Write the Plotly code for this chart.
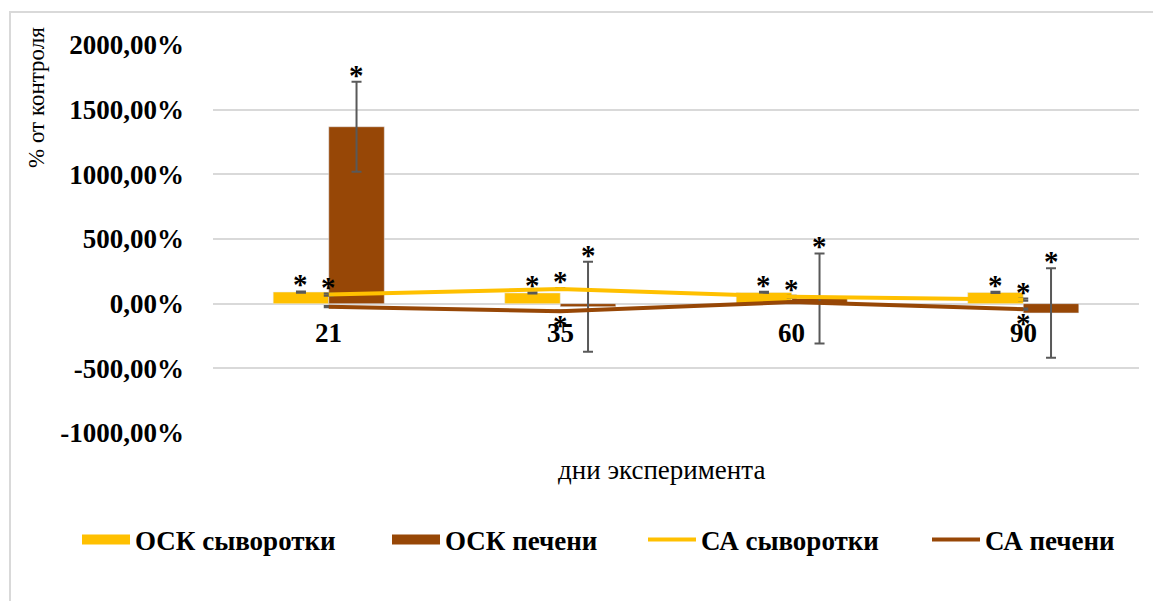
import plotly.graph_objects as go

# ---- data ----
days = ["21", "35", "60", "90"]
osk_serum = [90, 83, 87, 87]
osk_serum_err = [5, 5, 5, 5]
osk_liver = [1368, -23, 40, -72]
osk_liver_err = [348, 348, 348, 346]
ca_serum = [70, 113, 54, 31]
ca_serum_err = [8, 8, 8, 8]
ca_liver = [-23, -58, 12, -43]
ca_liver_err = [5, 5, 5, 5]
# which points carry a significance mark
osk_serum_star = [True, True, True, True]
osk_liver_star = [True, True, True, True]
ca_serum_star = [True, True, True, True]
ca_liver_star = [False, True, False, True]

y_ticks = [-1000, -500, 0, 500, 1000, 1500, 2000]
y_tick_labels = [f"{v:.2f}".replace(".", ",") + "%" for v in y_ticks]

series_names = ["ОСК сыворотки", "ОСК печени", "СА сыворотки", "СА печени"]
YELLOW = "#FFC000"
BROWN = "#974706"
ERR = "#595959"
GRID = "#D9D9D9"
FONT = "Liberation Serif"

W, H = 1153, 593
ML, MR, MT, MB = 205, 22, 37, 168
PW = W - ML - MR
PH = H - MT - MB


def px_to_paper_x(px):
    return (px - ML) / PW


def px_to_paper_y(py):
    return 1 - (py - MT) / PH


BARGAP = 0.52
n_bar_series = 2
xpos = list(range(len(days)))
bar_offsets = [(-0.5 + (k + 0.5) / n_bar_series) * (1 - BARGAP) for k in range(n_bar_series)]

fig = go.Figure()

fig.add_trace(go.Bar(
    x=xpos, y=osk_serum, name=series_names[0], marker_color=YELLOW,
    showlegend=False, legendgroup="g1",
    error_y=dict(type="data", array=osk_serum_err, color=ERR, thickness=2, width=5),
))
fig.add_trace(go.Bar(
    x=xpos, y=osk_liver, name=series_names[1], marker_color=BROWN,
    showlegend=False, legendgroup="g2",
    error_y=dict(type="data", array=osk_liver_err, color=ERR, thickness=2, width=5),
))
fig.add_trace(go.Scatter(
    x=xpos, y=ca_serum, name=series_names[2], mode="lines", legend="legend4",
    line=dict(color=YELLOW, width=4),
    error_y=dict(type="data", array=ca_serum_err, color=ERR, thickness=2, width=5),
))
fig.add_trace(go.Scatter(
    x=xpos, y=ca_liver, name=series_names[3], mode="lines", legend="legend5",
    line=dict(color=BROWN, width=4),
    error_y=dict(type="data", array=ca_liver_err, color=ERR, thickness=2, width=5),
))
# legend-only swatches for the bar series (wide rectangles like the original)
fig.add_trace(go.Scatter(
    x=[None], y=[None], name=series_names[0], mode="lines", legend="legend2",
    legendgroup="g1", line=dict(color=YELLOW, width=16), hoverinfo="skip",
))
fig.add_trace(go.Scatter(
    x=[None], y=[None], name=series_names[1], mode="lines", legend="legend3",
    legendgroup="g2", line=dict(color=BROWN, width=16), hoverinfo="skip",
))

annotations = []


def add_stars(xs, vals, errs, flags, above=True):
    for x, v, e, f in zip(xs, vals, errs, flags):
        if f:
            annotations.append(dict(
                x=x, y=(v + e) if above else (v - e), xref="x", yref="y",
                text="<b>*</b>", showarrow=False, xanchor="center", yanchor="middle",
                yshift=7 if above else -13,
                font=dict(family=FONT, size=29, color="black"),
            ))


add_stars([x + bar_offsets[0] for x in xpos], osk_serum, osk_serum_err, osk_serum_star)
add_stars([x + bar_offsets[1] for x in xpos], osk_liver, osk_liver_err, osk_liver_star)
add_stars(xpos, ca_serum, ca_serum_err, ca_serum_star)
add_stars(xpos, ca_liver, ca_liver_err, ca_liver_star, above=False)

for x, d in zip(xpos, days):
    annotations.append(dict(
        x=x, y=0, xref="x", yref="y", text=f"<b>{d}</b>", showarrow=False,
        yanchor="top", yshift=-12, font=dict(family=FONT, size=27, color="black"),
    ))
annotations.append(dict(
    x=px_to_paper_x(653), y=px_to_paper_y(462), xref="paper", yref="paper",
    text="дни эксперимента", showarrow=False, xanchor="center", yanchor="middle",
    font=dict(family=FONT, size=27, color="black"),
))
annotations.append(dict(
    x=px_to_paper_x(29), y=px_to_paper_y(90), xref="paper", yref="paper",
    text="% от контроля", showarrow=False, xanchor="center", yanchor="middle",
    textangle=-90, font=dict(family=FONT, size=23, color="black"),
))

# left edge of each legend entry (figure pixels)
legend_lefts = [69, 379, 635, 919]
legend_common = dict(
    orientation="h", xanchor="left", yanchor="middle", y=px_to_paper_y(532),
    font=dict(family=FONT, size=27, color="black", weight="bold"),
    itemwidth=48, bgcolor="rgba(0,0,0,0)", visible=True,
)
legends = {"legend": dict(visible=False)}
for i, lx in enumerate(legend_lefts):
    legends[f"legend{i + 2}"] = dict(x=px_to_paper_x(lx), **legend_common)

fig.update_layout(
    width=W, height=H,
    margin=dict(l=ML, r=MR, t=MT, b=MB),
    paper_bgcolor="white", plot_bgcolor="white",
    barmode="group", bargap=BARGAP, bargroupgap=0,
    font=dict(family=FONT, color="black"),
    showlegend=True,
    annotations=annotations,
    shapes=[dict(
        type="rect", xref="paper", yref="paper",
        x0=px_to_paper_x(2), x1=px_to_paper_x(1170), y0=px_to_paper_y(620), y1=px_to_paper_y(4),
        line=dict(color=GRID, width=2), fillcolor="rgba(0,0,0,0)", layer="below",
    )],
    **legends,
)
fig.update_xaxes(
    range=[-0.5, len(days) - 0.5], showticklabels=False, showgrid=False,
    zeroline=False, showline=False, ticks="",
)
fig.update_yaxes(
    range=[-1000, 2000], tickvals=y_ticks, ticktext=y_tick_labels,
    tickfont=dict(family=FONT, size=27, color="black", weight="bold"),
    showgrid=True, gridcolor=GRID, gridwidth=2,
    zeroline=True, zerolinecolor=GRID, zerolinewidth=2,
    ticklabelstandoff=28,
)

fig.write_html("out.html")
